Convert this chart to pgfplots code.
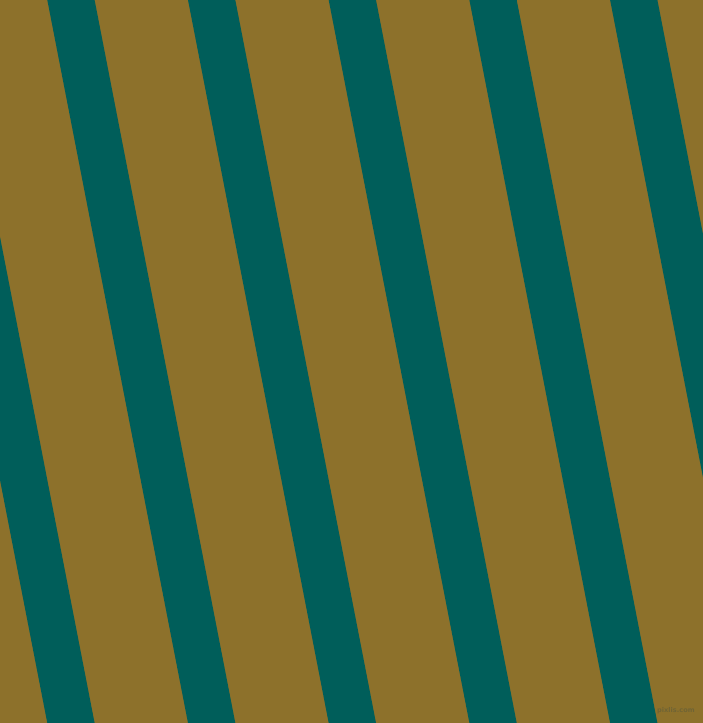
\documentclass[border=0pt]{standalone}
\usepackage{pgfplots}
\pgfplotsset{compat=1.18}
\usepackage{fontspec}
\setmainfont{DejaVu Sans}
\definecolor{olivebg}{RGB}{141,113,43}
\definecolor{tealband}{RGB}{0,94,90}
\definecolor{wmark}{RGB}{112,100,52}

% top-left x of each band at y=0; band width 47.3, shift 140.7 over full height
\pgfplotstableread{
xl
-93.4
47.3
188.0
328.7
469.4
610.1
}\bandtable

\begin{document}
\begin{tikzpicture}
\begin{axis}[
  width=703pt, height=723pt, scale only axis,
  xmin=0, xmax=703, ymin=0, ymax=723,
  y dir=reverse,
  hide axis,
  clip=true,
  axis background/.style={fill=olivebg},
]
\addplot[fill=olivebg, draw=none] coordinates {(0,0) (703,0) (703,723) (0,723)} -- cycle;
\addplot[fill=tealband, draw=none] coordinates {(-93.4,0) (-46.1,0) (94.6,723) (47.3,723)} -- cycle;
\addplot[fill=tealband, draw=none] coordinates {(47.3,0) (94.6,0) (235.3,723) (188.0,723)} -- cycle;
\addplot[fill=tealband, draw=none] coordinates {(188.0,0) (235.3,0) (376.0,723) (328.7,723)} -- cycle;
\addplot[fill=tealband, draw=none] coordinates {(328.7,0) (376.0,0) (516.7,723) (469.4,723)} -- cycle;
\addplot[fill=tealband, draw=none] coordinates {(469.4,0) (516.7,0) (657.4,723) (610.1,723)} -- cycle;
\addplot[fill=tealband, draw=none] coordinates {(610.1,0) (657.4,0) (798.1,723) (750.8,723)} -- cycle;
\node[anchor=base west, inner sep=0pt, text=wmark, font=\fontsize{6.6}{7}\selectfont\bfseries]
  at (axis cs:657,712) {pixlis.com};
\end{axis}
\end{tikzpicture}
\end{document}
